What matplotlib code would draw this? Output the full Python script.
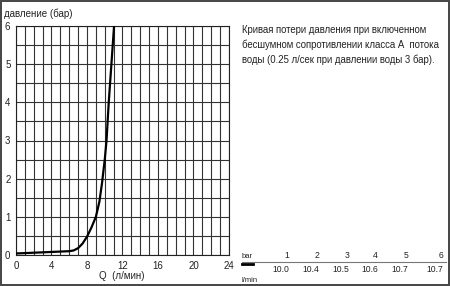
import matplotlib
matplotlib.use("Agg")
import matplotlib.pyplot as plt
from matplotlib.patches import Rectangle

plt.rcParams["font.family"] = ["Liberation Sans", "DejaVu Sans"]

# ── Data ─────────────────────────────────────────────────────────────────
FLOW_LPM = [0, 2, 4, 6, 6.5, 7.0, 7.5, 8.0, 8.5, 9.0, 9.4, 9.7, 10.0, 10.2,
            10.45, 10.75, 11.05]
PRESSURE_BAR = [0.04, 0.06, 0.08, 0.10, 0.12, 0.18, 0.30, 0.48, 0.72, 1.0,
                1.4, 1.9, 2.5, 3.0, 4.0, 5.0, 6.0]

TABLE_BAR = ["1", "2", "3", "4", "5", "6"]
TABLE_LPM = ["10.0", "10.4", "10.5", "10.6", "10.7", "10.7"]

X_TICKS = list(range(0, 25, 4))
Y_TICKS = list(range(0, 7))

NOTE = ("Кривая потери давления при включенном\n"
        "бесшумном сопротивлении класса А  потока\n"
        "воды (0.25 л/сек при давлении воды 3 бар).")

W, H = 450, 286
fig = plt.figure(figsize=(W / 100, H / 100), dpi=100, facecolor="white")


def fx(px):
    return px / W


def fy(py):
    return 1 - py / H


ax = fig.add_axes([fx(16), fy(255), fx(229) - fx(16), fy(26) - fy(255)])
ax.plot(FLOW_LPM, PRESSURE_BAR, color="black", linewidth=1.6, zorder=3,
        solid_joinstyle="round")

ax.set_xlim(0, 24)
ax.set_ylim(0, 6)
ax.set_xticks(X_TICKS)
ax.set_xticks(range(0, 25), minor=True)
ax.set_yticks(Y_TICKS)
ax.set_yticks([v / 2 for v in range(0, 13)], minor=True)
ax.grid(which="both", color="#333333", linewidth=0.8)
ax.tick_params(which="both", length=0, labelsize=7, colors="#222222", pad=4)
for s in ax.spines.values():
    s.set_color("#222222")
    s.set_linewidth(0.8)

fig.text(fx(4), fy(14), "давление (бар)", fontsize=7, ha="left", va="center", color="#222222")
fig.text(fx(122), fy(276), "Q  (л/мин)", fontsize=7, ha="center", va="center", color="#222222")

fig.text(fx(242), fy(45), NOTE, fontsize=6.9, ha="left", va="center",
         linespacing=1.5, color="#222222")

# small table
fig.text(fx(242), fy(256), "bar", fontsize=5.5, ha="left", va="center", color="#222222")
fig.text(fx(242), fy(280), "l/min", fontsize=5.5, ha="left", va="center", color="#222222")
col_x = [289, 319, 349, 378, 408, 443]
for x, b, q in zip(col_x, TABLE_BAR, TABLE_LPM):
    fig.text(fx(x), fy(256), b, fontsize=6.2, ha="right", va="center", color="#222222")
    fig.text(fx(x), fy(269), q, fontsize=6.2, ha="right", va="center", color="#222222")
fig.add_artist(plt.Line2D([fx(242), fx(446)], [fy(262), fy(262)],
                          color="#777777", linewidth=0.8))
fig.add_artist(plt.Line2D([fx(242), fx(253)], [fy(264), fy(264)],
                          color="black", linewidth=2.0))

# outer frame
fig.add_artist(Rectangle((0.002, 0.003), 0.996, 0.994, transform=fig.transFigure,
                         fill=False, edgecolor="#444444", linewidth=1.4))

fig.savefig("out.png", dpi=100, facecolor="white")
